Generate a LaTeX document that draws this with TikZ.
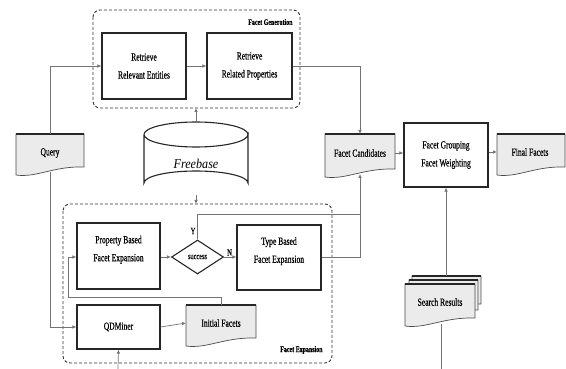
\documentclass[tikz,border=0pt]{standalone}
\usepackage{fontspec}
\setmainfont{Liberation Serif}[FakeStretch=0.7, FakeBold=0.5]
\newfontfamily\fbfont{Liberation Serif}[FakeStretch=0.9]
\usetikzlibrary{arrows.meta,shapes.geometric}
\tikzset{
  box/.style={draw=black!85, line width=1.1pt, fill=white, inner sep=1pt, align=center,
    font=\fontsize{10.8}{18}\selectfont},
  conn/.style={draw=black!55, line width=0.7pt},
  arr/.style={conn, -{Latex[length=4pt,width=3.5pt]}},
  group/.style={draw=black!80, dashed, dash pattern=on 3pt off 2pt, line width=0.9pt, rounded corners=7pt},
  grouplabel/.style={font=\fontsize{8.5}{9}\selectfont\bfseries, anchor=east},
  doc/.style={draw=black!70, line width=0.7pt, fill=black!8},
  doctop/.style={draw=black!85, line width=1.2pt},
  doctext/.style={inner sep=0pt, font=\fontsize{10.8}{11}\selectfont},
  lbl/.style={inner sep=0pt, font=\fontsize{9.5}{10}\selectfont}
}
% document shape: x1, y1, x2, yb
\newcommand\mydoc[4]{%
  \filldraw[doc] (#1,#4) -- (#1,#2) -- (#3,#2) -- (#3,#4-8)
    .. controls ({#1+0.55*(#3-#1)},#4-9) and ({#1+0.3*(#3-#1)},#4+3) .. (#1,#4) -- cycle;
  \draw[doctop] (#1,#2) -- (#3,#2);}
\begin{document}
\begin{tikzpicture}[x=1pt,y=-1pt]
\useasboundingbox (0,0) rectangle (566,369);

% groups
\draw[group] (93,10) rectangle (300,108);
\node[grouplabel] (fglab) at (296,22) {Facet Generation};
\draw[group] (63,204) rectangle (332,363);
\node[grouplabel] (felab) at (326,350) {Facet Expansion};

% Facet generation boxes
\node[box, minimum width=84pt, minimum height=66pt] (rre) at (144,66) {Retrieve\\Relevant Entities};
\node[box, minimum width=85pt, minimum height=66pt] (rrp) at (249.5,66) {Retrieve\\Related Properties};

% Freebase cylinder
\filldraw[draw=black!85, line width=1.1pt, fill=white]
  (144,134.5) -- (144,183) arc[start angle=180, end angle=360, x radius=52, y radius=12]
  -- (248,134.5) arc[start angle=0, end angle=180, x radius=52, y radius=12.5];
\draw[draw=black!85, line width=1.1pt] (144,134.5) arc[start angle=180, end angle=360, x radius=52, y radius=12.5];
\node[inner sep=0pt, font=\fbfont\fontsize{13.5}{14}\selectfont\itshape] (fb) at (196,164) {Freebase};
\coordinate (fbtop) at (196,122);
\coordinate (fbbot) at (196,195);

% documents
\mydoc{16}{134}{84}{175}
\node[doctext] (query) at (50,153) {Query};
\mydoc{325}{134}{395}{177}
\node[doctext] (fc) at (360,153) {Facet Candidates};
\mydoc{497}{134}{565}{175}
\node[doctext] (ff) at (530,152) {Final Facets};
\mydoc{186}{305}{256}{346}
\node[doctext] (inf) at (221,323) {Initial Facets};
\mydoc{412}{276}{481}{312}
\mydoc{409}{280}{478}{318}
\mydoc{405}{284}{475}{326}
\node[doctext] (sr) at (440,302) {Search Results};

% grouping box
\node[box, minimum width=84pt, minimum height=64pt] (fgw) at (446,155) {Facet Grouping\\Facet Weighting};

% expansion boxes
\node[box, minimum width=83pt, minimum height=66pt, text depth=15pt] (pb) at (118.5,256) {Property Based\\Facet Expansion};
\node[box, minimum width=84pt, minimum height=65pt, text depth=15pt] (tb) at (279,257.5) {Type Based\\Facet Expansion};
\node[draw=black!85, line width=1.1pt, diamond, aspect=1.55, minimum width=52pt, minimum height=34pt, inner sep=0pt,
  font=\fontsize{9}{9}\selectfont] (succ) at (197.5,257) {success};
\node[box, minimum width=83pt, minimum height=44pt] (qd) at (118.5,327) {QDMiner};

% coordinates for connectors
\coordinate (qtop) at (50,134);
\coordinate (qbot) at (50,172);
\coordinate (fctop) at (360,134);
\coordinate (fcbot) at (360,174);
\coordinate (srtop) at (446,276);
\coordinate (srbot) at (441,324);
\coordinate (srend) at (441,369);
\coordinate (qdin) at (118,369);
\coordinate (iftop) at (221,305);
\coordinate (fgbot) at (196,108);
\coordinate (fetop) at (196,204);

% connectors
\draw[arr] (qtop) |- (rre.west);
\draw[arr] (qbot) |- (qd.west);
\draw[arr] (rre.east) -- (rrp.east -| rrp.west);
\draw[arr] (rrp.east) -| (fctop);
\draw[arr] (fbtop) -- (fgbot);
\draw[arr] (fbbot) -- (fetop);
\draw[arr] (fc.east -| 395,0) -- (fgw.west |- fc.east);
\draw[arr] (fgw.east |- ff.west) -- (ff.west -| 497,0);
\draw[arr] (srtop) -- (fgw.south -| srtop);
\draw[conn] (srbot) -- (srend);
\draw[arr] (pb.east |- succ.west) -- (succ.west);
\draw[arr] (succ.east) -- (tb.west |- succ.east) node[lbl, pos=0.45, above=1pt] {N};
\draw[conn] (succ.north) -- (197.5,214) -- (360,214);
\node[lbl] (ylab) at (193,231) {Y};
\draw[arr] (tb.east |- succ.east) -| (fcbot);
\draw[arr] (qd.east) -- (inf.west -| 186,0);
\draw[arr] (iftop) -- (221,297) -- (68,297) |- (pb.west |- succ.west);
\draw[arr] (qdin) -- (qd.south);
\end{tikzpicture}
\end{document}
